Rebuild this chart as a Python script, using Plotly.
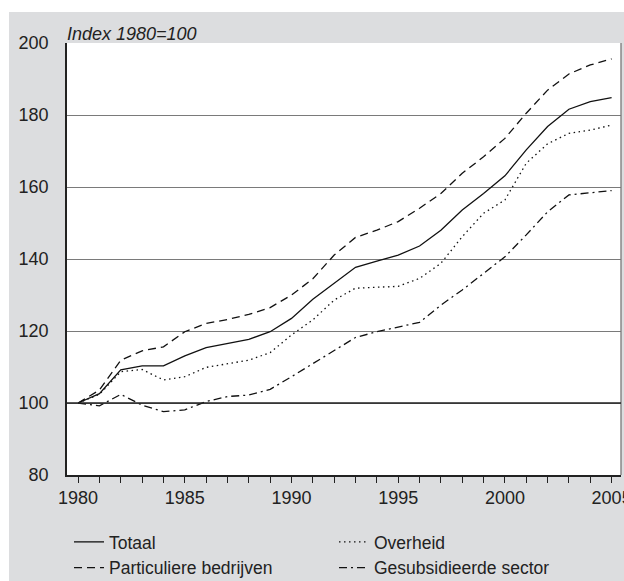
import plotly.graph_objects as go

years = list(range(1980, 2006))
totaal = [100, 102.6, 109.2, 110.3, 110.3, 113.1, 115.4, 116.6, 117.7, 119.8, 123.5, 128.8,
          133.2, 137.7, 139.4, 141.1, 143.6, 148.0, 153.6, 158.2, 163.1, 170.3, 176.8, 181.6, 183.7, 184.8]
particulier = [100, 103.6, 111.9, 114.5, 115.6, 119.8, 122.1, 123.2, 124.6, 126.5, 130.0, 134.5,
               141.1, 146.0, 148.0, 150.4, 154.1, 158.2, 163.8, 168.4, 173.5, 180.5, 186.9, 191.4, 193.9, 195.6]
overheid = [100, 102.4, 108.7, 109.3, 106.4, 107.3, 109.9, 110.8, 111.9, 114.0, 118.9, 123.1,
            128.6, 131.9, 132.1, 132.4, 134.6, 138.8, 146.2, 152.7, 156.4, 166.6, 172.0, 174.9, 175.8, 177.2]
gesubsidieerd = [100, 99.2, 102.4, 99.4, 97.6, 98.1, 100.4, 101.8, 102.2, 103.8, 107.3, 111.0,
                 114.7, 118.2, 119.8, 121.2, 122.4, 127.2, 131.4, 136.0, 140.6, 146.7, 153.1, 157.8, 158.4, 159.0]

names = ["Totaal", "Overheid", "Particuliere bedrijven", "Gesubsidieerde sector"]
y_ticks = [80, 100, 120, 140, 160, 180, 200]
x_labels = {1980: "1980", 1985: "1985", 1990: "1990", 1995: "1995", 2000: "2000", 2005: "2005"}
BASE = 100
y_title = "Index 1980=100"

series = [
    (names[0], totaal, "solid"),
    (names[1], overheid, "1.5px,3.5px"),
    (names[2], particulier, "8px,5px"),
    (names[3], gesubsidieerd, "8px,4px,2px,4px"),
]

fig = go.Figure()
for name, vals, dash in series:
    fig.add_trace(go.Scatter(x=years, y=vals, name=name, mode="lines",
                             line=dict(color="#111111", width=1.3, dash=dash)))

FONT = "Liberation Sans, Arial, sans-serif"
L, R, T, B = 67, 3, 43, 106
W = 624 - L - R
H = 581 - T - B

fig.update_layout(
    width=624, height=581,
    margin=dict(l=L, r=R, t=T, b=B, pad=0, autoexpand=False),
    paper_bgcolor="white", plot_bgcolor="white",
    font=dict(family=FONT, color="#222222"),
    showlegend=True,
    legend=dict(orientation="h", x=(69 - L) / W, xanchor="left",
                y=-(524 - 475) / H, yanchor="top",
                entrywidth=220, entrywidthmode="pixels",
                font=dict(size=17.5, family=FONT, color="#222222"),
                bgcolor="rgba(0,0,0,0)", tracegroupgap=0),
    shapes=[
        dict(type="rect", xref="paper", yref="paper", layer="below",
             x0=(9 - L) / W, x1=1.1, y0=-0.5, y1=1 + (T - 12) / H,
             fillcolor="#dcdddf", line=dict(width=0)),
        dict(type="rect", xref="paper", yref="paper", layer="below",
             x0=0, x1=1, y0=0, y1=1, fillcolor="white", line=dict(width=0)),
        dict(type="line", xref="paper", yref="paper", x0=1, x1=1, y0=0, y1=1,
             line=dict(color="#777777", width=1.3)),
        dict(type="line", xref="paper", yref="y", x0=0, x1=1, y0=BASE, y1=BASE,
             line=dict(color="#222222", width=1.5)),
    ],
    annotations=[
        dict(text="<i>" + y_title + "</i>", xref="paper", yref="paper", x=0, y=1,
             xanchor="left", yanchor="bottom", showarrow=False, yshift=-3, xshift=-2,
             font=dict(size=18, family=FONT, color="#222222")),
    ],
)

fig.update_xaxes(range=[1979.48, 2005.44], tickvals=years,
                 ticktext=[x_labels.get(y, "") for y in years],
                 ticks="outside", ticklen=6, tickcolor="#222222", tickwidth=1,
                 showline=True, linecolor="#222222", linewidth=1.5,
                 showgrid=False, zeroline=False, ticklabeloverflow="allow",
                 tickfont=dict(size=18, family=FONT, color="#222222"))
fig.update_yaxes(range=[80, 200], tickvals=y_ticks,
                 ticks="outside", ticklen=13, tickcolor="rgba(0,0,0,0)",
                 showline=True, linecolor="#222222", linewidth=1.5,
                 showgrid=True, gridcolor="#7a7a7a", gridwidth=1.3, zeroline=False,
                 tickfont=dict(size=18, family=FONT, color="#222222"))

fig.write_html("out.html", config={"displayModeBar": False},
               post_script="document.body.style.margin='0';document.body.style.overflow='hidden';")
